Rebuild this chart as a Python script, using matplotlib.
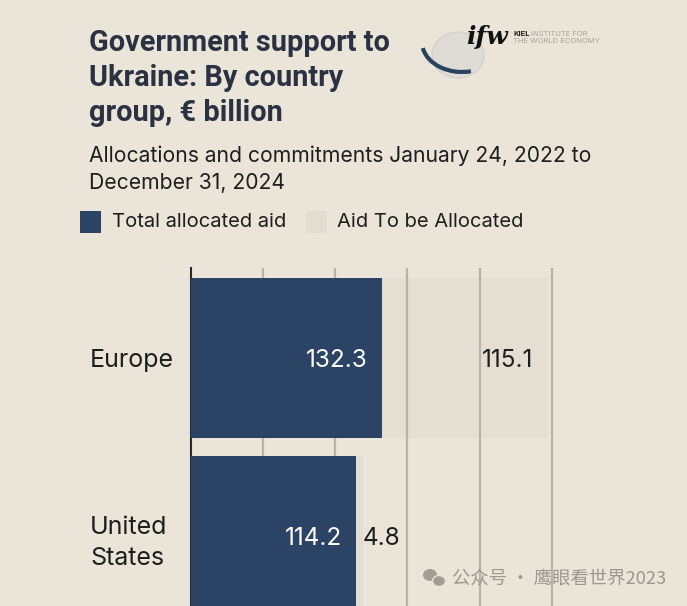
import matplotlib.pyplot as plt
import matplotlib.transforms as mtransforms
from matplotlib.patches import Rectangle, Circle, Arc, Ellipse

# data
groups = ['Europe', 'United\nStates']
allocated = [132.3, 114.2]
to_allocate = [115.1, 4.8]
grid_ticks = [50, 100, 150, 200, 250]

title_lines = ['Government support to', 'Ukraine: By country', 'group, € billion']
subtitle_lines = ['Allocations and commitments January 24, 2022 to', 'December 31, 2024']

bg = '#ebe4d8'
navy = '#2b4365'
light = '#e3ddd1'
title_col = '#2a3142'
txt = '#1e1e1e'

plt.rcParams['font.family'] = ['Inter', 'DejaVu Sans']

fig = plt.figure(figsize=(6.87, 6.06), dpi=100, facecolor=bg)
W, H = 687, 606


def fx(px):
    return px / W


def fy(py):
    return 1 - py / H


# title block, one line at a time so the baselines sit where they should
for k, line in enumerate(title_lines):
    fig.text(fx(89), fy(51 + 35 * k), line, fontsize=20.8, fontweight='bold',
             color=title_col, family='Roboto', va='baseline', ha='left')
for k, line in enumerate(subtitle_lines):
    fig.text(fx(89), fy(162 + 27 * k), line, fontsize=15.2, color=txt,
             va='baseline', ha='left')

# legend
fig.patches.append(Rectangle((fx(80), fy(233)), fx(21), 22 / H, transform=fig.transFigure,
                             facecolor=navy, edgecolor='none'))
fig.text(fx(112), fy(222), 'Total allocated aid', fontsize=14.5, color=txt, va='center')
fig.patches.append(Rectangle((fx(306), fy(233)), fx(21), 22 / H, transform=fig.transFigure,
                             facecolor=light, edgecolor='none'))
fig.text(fx(337), fy(222), 'Aid To be Allocated', fontsize=14.5, color=txt, va='center')

# logo
fig.patches.append(Circle((fx(458), fy(55)), 26 / W, transform=fig.transFigure,
                          facecolor='#dcdbd5', edgecolor='#cfcec8', lw=1, alpha=0.8))
fig.patches.append(Arc((fx(462), fy(42)), 80 / W, 60 / H, angle=0, theta1=190, theta2=285,
                       transform=fig.transFigure, color='#27435f', lw=3))
fig.text(fx(466), fy(44), 'ifw', fontsize=18, fontweight='bold', style='italic',
         family='DejaVu Serif', color='#111111', va='baseline')
fig.text(fx(513), fy(36), 'KIEL', fontsize=5.5, fontweight='bold', color='#222222', va='baseline')
fig.text(fx(531), fy(36), 'INSTITUTE FOR', fontsize=5.5, color='#a8a49c', va='baseline')
fig.text(fx(513), fy(43), 'THE WORLD ECONOMY', fontsize=5.5, color='#a8a49c', va='baseline')

# chart
ax = fig.add_axes([fx(191), 0, 368 / W, (H - 268) / H])
ax.set_facecolor('none')
ypos = list(range(len(groups)))
ax.barh(ypos, allocated, height=0.9, color=navy, zorder=3)
ax.barh(ypos, to_allocate, left=allocated, height=0.9, color=light, alpha=0.75, zorder=1)
for g in grid_ticks:
    ax.axvline(g, color='#b9b2a7', lw=1.6, zorder=2)
ax.set_xlim(0, 255)
ax.set_ylim(1.393, -0.506)
for s in ['top', 'right', 'bottom']:
    ax.spines[s].set_visible(False)
ax.spines['left'].set_color('#2a2a2a')
ax.spines['left'].set_linewidth(1.5)
ax.set_xticks([])
ax.set_yticks([])

trans = mtransforms.blended_transform_factory(fig.transFigure, ax.transData)
for i, name in enumerate(groups):
    ax.text(fx(90), i, name, transform=trans, ha='left', va='center_baseline',
            fontsize=18, color=txt, linespacing=1.45)
    ax.annotate(f'{allocated[i]}', xy=(allocated[i], i), xytext=(-10, 0),
                textcoords='offset points', ha='right', va='center_baseline',
                fontsize=17.5, color='white', zorder=4)
    end = allocated[i] + to_allocate[i]
    if to_allocate[i] > 20:
        ax.annotate(f'{to_allocate[i]}', xy=(end, i), xytext=(-11, 0),
                    textcoords='offset points', ha='right', va='center_baseline',
                    fontsize=17.5, color=txt, zorder=4)
    else:
        ax.annotate(f'{to_allocate[i]}', xy=(allocated[i], i), xytext=(5, 0),
                    textcoords='offset points', ha='left', va='center_baseline',
                    fontsize=17.5, color=txt, zorder=4)

# watermark
fig.patches.append(Ellipse((fx(430), fy(575)), 14 / W, 12 / H, transform=fig.transFigure,
                           facecolor='#a29d95', edgecolor='none'))
fig.patches.append(Ellipse((fx(439), fy(581)), 13 / W, 11 / H, transform=fig.transFigure,
                           facecolor='#a29d95', edgecolor=bg, lw=1))
fig.text(fx(452), fy(579), '公众号 · 鹰眼看世界2023', fontsize=13.2, color='#9c978f',
         family=['Noto Sans CJK SC', 'DejaVu Sans'], va='center', ha='left')

fig.savefig('out.png', dpi=100, facecolor=bg)
